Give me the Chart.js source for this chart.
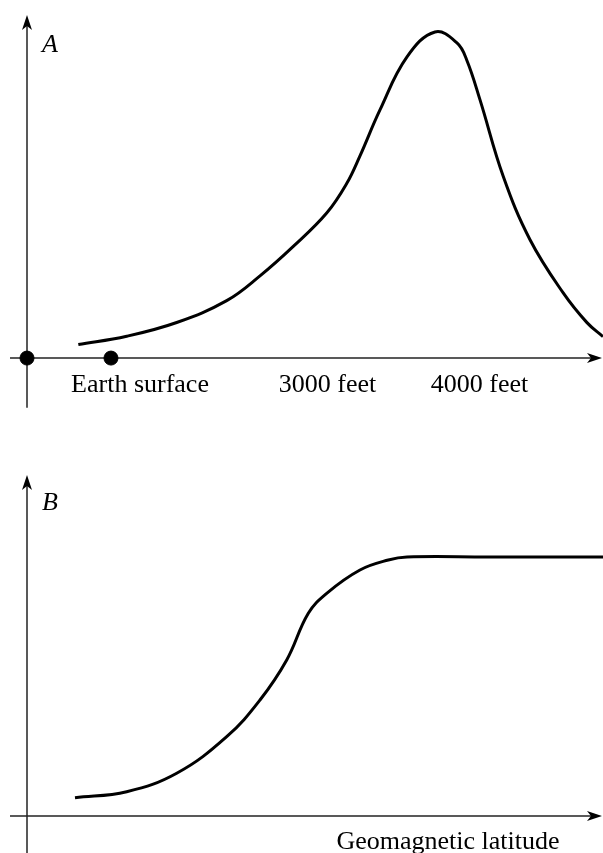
<!DOCTYPE html>
<html>
<head>
<meta charset="utf-8">
<script src="https://cdn.jsdelivr.net/npm/chart.js@4"></script>
<style>
  html, body { margin: 0; padding: 0; background: #fff; }
  canvas { display: block; }
</style>
</head>
<body>
<canvas id="chartA" width="603" height="420"></canvas>
<canvas id="chartB" width="603" height="433"></canvas>
<script>
// panel A: intensity vs altitude (arbitrary units, 0..100)
const altX = [8.91, 17.31, 25.99, 34.67, 40.45, 46.23, 52.03, 55.5, 57.81, 61.28, 65.97, 70.83, 74.65, 76.34, 78.65, 82.69, 87.33, 93.06, 97.22, 100];
const valA = [4.13, 6.68, 10.9, 17.6, 25.2, 34.24, 44.47, 53.5, 62.0, 76.11, 92.34, 100, 96.63, 91.42, 79.17, 55.68, 36.29, 20.06, 10.87, 6.58];
const markerX = [0, 14.58];
const tickLabelsA = ["Earth surface", "3000 feet", "4000 feet"];
const tickPosA = [19.62, 52.17, 78.56];

// panel B: intensity vs geomagnetic latitude
const latX = [8.33, 17.31, 25.99, 34.67, 40.45, 45.09, 48.84, 52.03, 57.81, 62.73, 65.97, 80, 100];
const valB = [7.07, 9.38, 16.49, 30.62, 44.79, 60.23, 78.26, 85.98, 94.98, 98.84, 100, 100, 100];
const xTitleB = "Geomagnetic latitude";
const xTitlePosB = 73.09;

const serif = '"Liberation Serif", "DejaVu Serif", serif';

function arrowHead(ctx, x, y, dir) {
  ctx.save();
  ctx.translate(x, y);
  if (dir === 'right') ctx.rotate(Math.PI / 2);
  ctx.beginPath();
  ctx.moveTo(0, 0);
  ctx.lineTo(-5, 15);
  ctx.lineTo(0, 11);
  ctx.lineTo(5, 15);
  ctx.closePath();
  ctx.fillStyle = '#000';
  ctx.fill();
  ctx.restore();
}

function axesPlugin(opts) {
  return {
    id: 'axesDeco',
    beforeDatasetsDraw(chart) {
      const ctx = chart.ctx;
      const x = chart.scales.x, y = chart.scales.y;
      const x0 = x.getPixelForValue(0);
      const y0 = y.getPixelForValue(0);
      ctx.save();
      ctx.strokeStyle = '#222';
      ctx.lineWidth = 1.5;
      // vertical axis
      ctx.beginPath();
      ctx.moveTo(x0, y.getPixelForValue(opts.yTop) + 8);
      ctx.lineTo(x0, y.getPixelForValue(opts.yBottom));
      ctx.stroke();
      arrowHead(ctx, x0, y.getPixelForValue(opts.yTop), 'up');
      // horizontal axis
      const xEnd = x.getPixelForValue(100);
      ctx.beginPath();
      ctx.moveTo(x.getPixelForValue(-2.95), y0);
      ctx.lineTo(xEnd - 8, y0);
      ctx.stroke();
      arrowHead(ctx, xEnd - 1, y0, 'right');
      // panel letter
      ctx.fillStyle = '#000';
      ctx.font = 'italic 26px ' + serif;
      ctx.textAlign = 'left';
      ctx.textBaseline = 'middle';
      ctx.fillText(opts.letter, x0 + 15, opts.letterY);
      // tick / axis labels
      ctx.font = '26px ' + serif;
      ctx.textAlign = 'center';
      ctx.textBaseline = 'alphabetic';
      opts.labels.forEach((t, i) => {
        ctx.fillText(t, x.getPixelForValue(opts.labelPos[i]), y0 + opts.labelDy);
      });
      ctx.restore();
    }
  };
}

function baseOptions(xmin, xmax, ymin, ymax) {
  return {
    responsive: false,
    animation: false,
    layout: { padding: 0, autoPadding: false },
    plugins: { legend: { display: false }, tooltip: { enabled: false } },
    scales: {
      x: { type: 'linear', display: false, min: xmin, max: xmax },
      y: { type: 'linear', display: false, min: ymin, max: ymax }
    }
  };
}

new Chart(document.getElementById('chartA'), {
  type: 'scatter',
  data: {
    datasets: [
      {
        data: altX.map((v, i) => ({ x: v, y: valA[i] })),
        showLine: true,
        borderColor: '#000',
        borderWidth: 3,
        pointRadius: 0,
        tension: 0.4,
        clip: false
      },
      {
        data: markerX.map(v => ({ x: v, y: 0 })),
        showLine: false,
        pointRadius: 7,
        pointBackgroundColor: '#000',
        pointBorderColor: '#000',
        clip: false
      }
    ]
  },
  options: baseOptions(-4.6875, 100, -18.99, 109.8),
  plugins: [axesPlugin({
    yTop: 105.2, yBottom: -15.2,
    letter: 'A', letterY: 45,
    labels: tickLabelsA, labelPos: tickPosA, labelDy: 34
  })]
});

new Chart(document.getElementById('chartB'), {
  type: 'scatter',
  data: {
    datasets: [
      {
        data: latX.map((v, i) => ({ x: v, y: valB[i] })),
        showLine: true,
        borderColor: '#000',
        borderWidth: 3,
        pointRadius: 0,
        tension: 0.4,
        clip: false
      }
    ]
  },
  options: baseOptions(-4.6875, 100, -14.29, 152.9),
  plugins: [axesPlugin({
    yTop: 131.7, yBottom: -14.29,
    letter: 'B', letterY: 83,
    labels: [xTitleB], labelPos: [xTitlePosB], labelDy: 33
  })]
});
</script>
</body>
</html>
